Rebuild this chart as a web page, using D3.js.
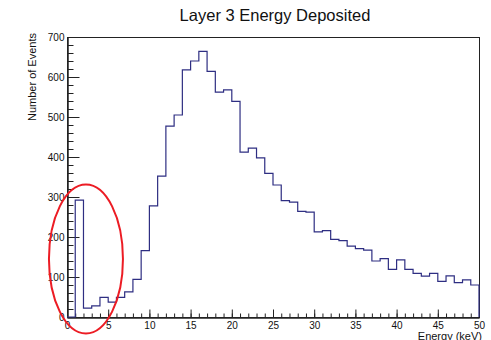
<!DOCTYPE html>
<html>
<head>
<meta charset="utf-8">
<script src="https://cdn.jsdelivr.net/npm/d3@7"></script>
<style>
  html, body { margin: 0; padding: 0; background: #fff; }
  svg { display: block; font-family: "Liberation Sans", Arial, Helvetica, sans-serif; }
</style>
</head>
<body>
<svg id="chart" width="491" height="340"></svg>
<script>
// Histogram of layer 3 energy deposits: 50 bins of 1 keV from 0 to 50 keV
const binLow = 0;
const binWidth = 1;
const counts = [
  0, 292, 22, 28, 49, 37, 49, 63, 94, 166,
  278, 352, 477, 505, 618, 640, 664, 614, 562, 568,
  539, 412, 422, 398, 359, 330, 291, 287, 264, 262,
  213, 216, 194, 191, 177, 171, 167, 140, 146, 119,
  143, 119, 109, 102, 109, 89, 103, 86, 93, 80
];
const xMajorTicks = [0, 5, 10, 15, 20, 25, 30, 35, 40, 45, 50];
const yMajorTicks = [0, 100, 200, 300, 400, 500, 600, 700];
const titleText = "Layer 3 Energy Deposited";
const xTitle = "Energy (keV)";
const yTitle = "Number of Events";

const svg = d3.select("#chart");
const frame = { left: 67, right: 479, top: 37, bottom: 317 };

const x = d3.scaleLinear().domain([0, 50]).range([frame.left, frame.right]);
const y = d3.scaleLinear().domain([0, 700]).range([frame.bottom, frame.top]);

// Frame box
svg.append("rect")
  .attr("x", frame.left + 0.5).attr("y", frame.top + 0.5)
  .attr("width", frame.right - frame.left).attr("height", frame.bottom - frame.top)
  .attr("fill", "none").attr("stroke", "#222").attr("stroke-width", 1);

// Minor ticks (inward)
const xMinor = d3.axisBottom(x).tickValues(d3.range(0, 51, 1)).tickSize(-4).tickSizeOuter(0).tickFormat("");
const yMinor = d3.axisLeft(y).tickValues(d3.range(0, 701, 20)).tickSize(-6).tickSizeOuter(0).tickFormat("");
svg.append("g").attr("transform", `translate(0,${frame.bottom + 0.5})`).call(xMinor);
svg.append("g").attr("transform", `translate(${frame.left + 0.5},0)`).call(yMinor);

// Major ticks with labels
const xAxis = d3.axisBottom(x).tickValues(xMajorTicks).tickSize(-8).tickSizeOuter(0).tickPadding(4);
const yAxis = d3.axisLeft(y).tickValues(yMajorTicks).tickSize(-12).tickSizeOuter(0).tickPadding(3);
const gx = svg.append("g").attr("transform", `translate(0,${frame.bottom + 0.5})`).call(xAxis);
const gy = svg.append("g").attr("transform", `translate(${frame.left + 0.5},0)`).call(yAxis);

svg.selectAll(".tick line").attr("stroke", "#222");
svg.selectAll(".domain").attr("stroke", "#222");
[gx, gy].forEach(g => g.selectAll("text")
  .attr("font-family", "Liberation Sans, Arial, sans-serif")
  .attr("font-size", 10).attr("fill", "#111"));

// Histogram outline as a step line
const pts = counts.map((c, i) => [binLow + i * binWidth, c]);
const last = counts[counts.length - 1];
const xEnd = binLow + counts.length * binWidth;
pts.push([xEnd, last]);
pts.push([xEnd, 0]);

const line = d3.line()
  .x(d => x(d[0]))
  .y(d => y(d[1]))
  .curve(d3.curveStepAfter);

svg.append("path")
  .datum(pts)
  .attr("d", line)
  .attr("fill", "none")
  .attr("stroke", "#2e2e82")
  .attr("stroke-width", 1.2);

// Titles
svg.append("text")
  .attr("x", 275).attr("y", 21)
  .attr("text-anchor", "middle")
  .attr("font-size", 16.5).attr("fill", "#111")
  .text(titleText);

svg.append("text")
  .attr("x", frame.right + 3).attr("y", 339.5)
  .attr("text-anchor", "end")
  .attr("font-size", 11).attr("fill", "#111")
  .text(xTitle);

svg.append("text")
  .attr("transform", `translate(36,${frame.top - 4}) rotate(-90)`)
  .attr("text-anchor", "end")
  .attr("font-size", 11).attr("fill", "#111")
  .text(yTitle);

// Highlight around the low-energy peak
svg.append("ellipse")
  .attr("cx", x(2.3)).attr("cy", y(145))
  .attr("rx", 37).attr("ry", 74.5)
  .attr("fill", "none")
  .attr("stroke", "#ec1c24")
  .attr("stroke-width", 2);
</script>
</body>
</html>
